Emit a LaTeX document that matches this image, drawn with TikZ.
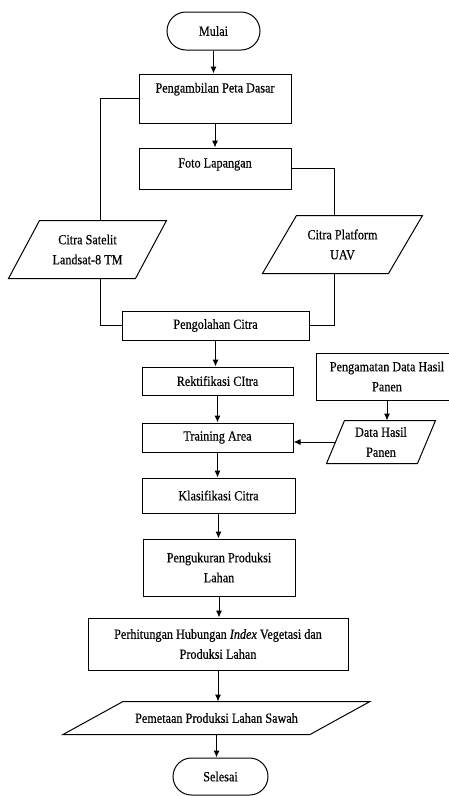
\documentclass[tikz,border=0pt]{standalone}
\usepackage{fontspec}
\setmainfont{Liberation Serif}[FakeStretch=0.87,FakeBold=0.4]
\usetikzlibrary{shapes,shapes.misc,arrows.meta}

\begin{document}
\begin{tikzpicture}[->,>={Latex[length=7pt,width=6pt]},x=1pt,y=-1pt,line width=1pt,
      every node/.append style={font=\fontsize{14}{20}\selectfont,inner sep=0pt,align=center},
      box/.style={draw=black,rectangle},
      term/.style={draw=black,rounded rectangle},
      io/.style={rectangle,append after command={\pgfextra{\draw[-] ([xshift=#1]\tikzlastnode.north west) -- ([xshift=#1]\tikzlastnode.north east) -- ([xshift=-#1]\tikzlastnode.south east) -- ([xshift=-#1]\tikzlastnode.south west) -- cycle;}}}]
    \useasboundingbox (0,0) rectangle (449,796);
    \node (mulai) [term,minimum width=93pt,minimum height=38pt] at (213.5,31) {Mulai};
    \node (peta) [box,minimum width=152pt,text height=18.5pt,text depth=30.5pt] at (215,98.5) {Pengambilan Peta Dasar};
    \node (foto) [box,minimum width=152pt,text height=19.5pt,text depth=21.5pt] at (215,168.5) {Foto Lapangan};
    \node (satelit) [io=15.5pt,minimum width=126pt,minimum height=57pt] at (87.5,249.5) {Citra Satelit\\Landsat-8 TM};
    \node (uav) [io=17pt,minimum width=125pt,minimum height=57pt] at (342.5,244.5) {Citra Platform\\UAV};
    \node (olah) [box,minimum width=187pt,minimum height=29pt] at (215.5,325.5) {Pengolahan Citra};
    \node (rekt) [box,minimum width=151pt,minimum height=28pt] at (217.5,381) {Rektifikasi CItra};
    \node (amat) [box,minimum width=142pt,minimum height=47pt] at (387,376.5) {Pengamatan Data Hasil\\Panen};
    \node (data) [io=9pt,minimum width=90pt,minimum height=42pt] at (381,442) {Data Hasil\\Panen};
    \node (train) [box,minimum width=151pt,minimum height=29pt] at (217.5,437.5) {Training Area};
    \node (klas) [box,minimum width=153pt,minimum height=35pt] at (218.5,495.5) {Klasifikasi Citra};
    \node (ukur) [box,minimum width=152pt,minimum height=57pt] at (219,567.5) {Pengukuran Produksi\\Lahan};
    \node (hitung) [box,minimum width=260pt,minimum height=52pt] at (218,644) {Perhitungan Hubungan \textit{Index} Vegetasi dan\\Produksi Lahan};
    \node (sawah) [io=30pt,minimum width=246pt,minimum height=32pt] at (216.5,718) {Pemetaan Produksi Lahan Sawah};
    \node (selesai) [term,minimum width=95pt,minimum height=37pt] at (220.5,776.5) {Selesai};
    \coordinate (kiri) at (100,98.5);
    \coordinate (kanan) at (334,168.5);
    % main flow
    \draw (mulai.south) -- (mulai.south |- peta.north);
    \draw (peta.south) -- (peta.south |- foto.north);
    \draw (olah.south) -- (olah.south |- rekt.north);
    \draw (rekt.south) -- (rekt.south |- train.north);
    \draw (train.south) -- (train.south |- klas.north);
    \draw (klas.south) -- (klas.south |- ukur.north);
    \draw (ukur.south) -- (ukur.south |- hitung.north);
    \draw (hitung.south) -- (hitung.south |- sawah.north);
    \draw (sawah.south) -- (sawah.south |- selesai.north);
    % side branches
    \draw[-] (peta.west) -- (kiri) -- (kiri |- satelit.north);
    \draw[-] (kiri |- satelit.south) |- (olah.west);
    \draw[-] (foto.east) -- (kanan) -- (kanan |- uav.north);
    \draw[-] (kanan |- uav.south) |- (olah.east);
    \draw (amat.south) -- (amat.south |- data.north);
    \draw (data.west) -- (data.west -| train.east);
\end{tikzpicture}
\end{document}
